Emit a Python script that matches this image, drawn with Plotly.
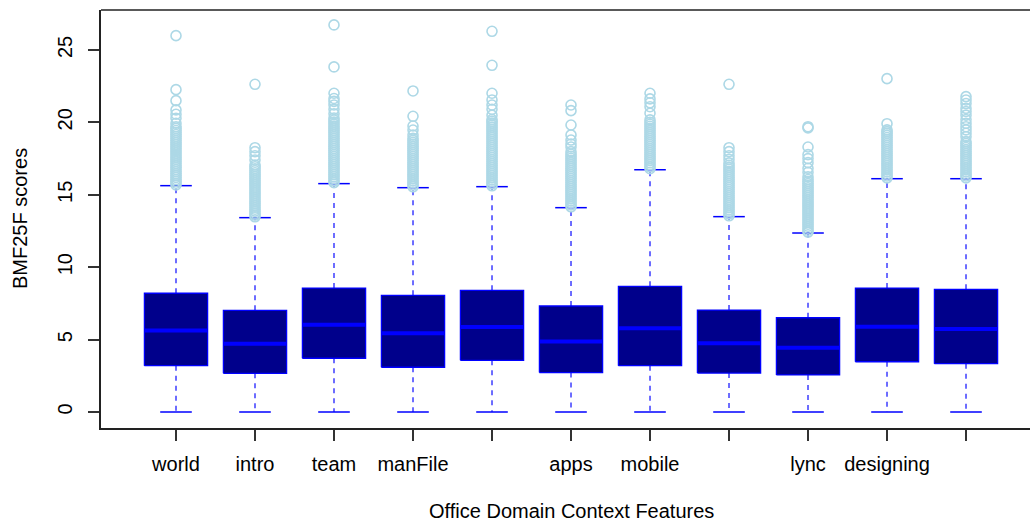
import plotly.graph_objects as go

# Per-group summary statistics (BMF25F scores per Office domain context feature)
tick_labels = ["world", "intro", "team", "manFile", "", "apps", "mobile", "", "lync", "designing", ""]
q1 = [3.20, 2.67, 3.71, 3.09, 3.57, 2.72, 3.20, 2.69, 2.56, 3.47, 3.34]
medians = [5.62, 4.72, 6.03, 5.44, 5.87, 4.86, 5.78, 4.74, 4.44, 5.89, 5.73]
q3 = [8.20, 7.02, 8.56, 8.06, 8.40, 7.32, 8.68, 7.04, 6.51, 8.56, 8.47]
whisker_low = [0, 0, 0, 0, 0, 0, 0, 0, 0, 0, 0]
whisker_high = [15.63, 13.42, 15.77, 15.49, 15.56, 14.11, 16.73, 13.49, 12.36, 16.11, 16.11]

outliers_world = [15.68, 15.8, 15.93, 16.06, 16.2, 16.34, 16.47, 16.61, 16.75, 16.9, 17.03, 17.17,
                  17.32, 17.46, 17.6, 17.74, 17.88, 18.03, 18.17, 18.31, 18.45, 18.6, 18.74, 18.88,
                  19.02, 19.16, 19.3, 19.44, 19.58, 19.7, 19.94, 20.28, 20.56, 20.86, 21.5, 22.26, 25.99]
outliers_intro = [13.48, 13.6, 13.73, 13.87, 14.0, 14.14, 14.28, 14.42, 14.56, 14.7, 14.84, 14.98,
                  15.12, 15.26, 15.4, 15.54, 15.68, 15.82, 15.96, 16.1, 16.24, 16.38, 16.52, 16.66,
                  16.8, 16.94, 17.06, 17.4, 17.7, 17.98, 18.25, 22.63]
outliers_team = [15.84, 15.96, 16.1, 16.24, 16.38, 16.52, 16.66, 16.8, 16.94, 17.08, 17.22, 17.36,
                 17.5, 17.64, 17.78, 17.92, 18.06, 18.2, 18.34, 18.48, 18.62, 18.76, 18.9, 19.04,
                 19.18, 19.32, 19.46, 19.6, 19.74, 19.88, 20.02, 20.16, 20.3, 20.6, 20.9, 21.2,
                 21.45, 21.65, 22.01, 23.83, 26.73]
outliers_manfile = [15.55, 15.68, 15.82, 15.96, 16.1, 16.24, 16.38, 16.52, 16.66, 16.8, 16.94, 17.08,
                    17.22, 17.36, 17.5, 17.64, 17.78, 17.92, 18.06, 18.2, 18.34, 18.48, 18.62, 18.76,
                    18.9, 19.13, 19.47, 19.75, 20.42, 22.17]
outliers_5 = [15.62, 15.75, 15.89, 16.03, 16.17, 16.31, 16.45, 16.59, 16.73, 16.87, 17.01, 17.15,
              17.29, 17.43, 17.57, 17.71, 17.85, 17.99, 18.13, 18.27, 18.41, 18.55, 18.69, 18.83,
              18.97, 19.11, 19.25, 19.39, 19.53, 19.67, 19.81, 19.95, 20.08, 20.2, 20.5, 20.9,
              21.2, 21.55, 22.01, 23.94, 26.29]
outliers_apps = [14.17, 14.3, 14.44, 14.58, 14.72, 14.86, 15.0, 15.14, 15.28, 15.42, 15.56, 15.7,
                 15.84, 15.98, 16.12, 16.26, 16.4, 16.54, 16.68, 16.82, 16.96, 17.1, 17.24, 17.38,
                 17.52, 17.66, 17.8, 17.98, 18.3, 18.51, 18.78, 19.13, 19.82, 20.81, 21.2]
outliers_mobile = [16.8, 16.93, 17.07, 17.21, 17.35, 17.49, 17.63, 17.77, 17.91, 18.05, 18.19, 18.33,
                   18.47, 18.61, 18.75, 18.89, 19.03, 19.17, 19.31, 19.45, 19.59, 19.73, 19.87, 20.01,
                   20.17, 20.63, 21.08, 21.35, 21.62, 22.01]
outliers_8 = [13.55, 13.68, 13.82, 13.96, 14.1, 14.24, 14.38, 14.52, 14.66, 14.8, 14.94, 15.08,
              15.22, 15.36, 15.5, 15.64, 15.78, 15.92, 16.06, 16.2, 16.34, 16.48, 16.62, 16.76,
              16.9, 17.04, 17.2, 17.45, 17.7, 17.98, 18.25, 22.63]
outliers_lync = [12.42, 12.55, 12.69, 12.83, 12.97, 13.11, 13.25, 13.39, 13.53, 13.67, 13.81, 13.95,
                 14.09, 14.23, 14.37, 14.51, 14.65, 14.79, 14.93, 15.07, 15.21, 15.35, 15.49, 15.63,
                 15.77, 15.91, 16.05, 16.25, 16.55, 16.83, 17.22, 17.5, 17.77, 18.3, 19.62, 19.7]
outliers_designing = [16.17, 16.3, 16.44, 16.58, 16.72, 16.86, 17.0, 17.14, 17.28, 17.42, 17.56, 17.7,
                      17.84, 17.98, 18.12, 18.26, 18.4, 18.54, 18.68, 18.82, 18.96, 19.1, 19.24, 19.36,
                      19.48, 19.91, 23.02]
outliers_11 = [16.17, 16.3, 16.44, 16.58, 16.72, 16.86, 17.0, 17.14, 17.28, 17.42, 17.56, 17.7,
               17.84, 17.98, 18.12, 18.26, 18.4, 18.54, 18.67, 19.01, 19.25, 19.48, 19.7, 19.94,
               20.2, 20.5, 20.75, 20.97, 21.3, 21.55, 21.78]

outliers = [outliers_world, outliers_intro, outliers_team, outliers_manfile, outliers_5, outliers_apps,
            outliers_mobile, outliers_8, outliers_lync, outliers_designing, outliers_11]

y_ticks = [0, 5, 10, 15, 20, 25]

FONT = "Liberation Sans, Arial, Helvetica, sans-serif"
FONT_SIZE = 20
BOX_FILL = "#00008B"
EDGE = "#0000FF"
WHISKER = "#3d3dff"
OUTLIER = "#ADD8E6"
HALF_BOX = 0.4
HALF_STAPLE = 0.2

positions = list(range(1, len(tick_labels) + 1))

# Geometry for the groups, in data units
box_x, box_y = [], []
med_x, med_y = [], []
whisk_x, whisk_y = [], []
staple_x, staple_y = [], []
out_x, out_y = [], []
for i, p in enumerate(positions):
    box_x += [p - HALF_BOX, p + HALF_BOX, p + HALF_BOX, p - HALF_BOX, p - HALF_BOX, None]
    box_y += [q1[i], q1[i], q3[i], q3[i], q1[i], None]
    med_x += [p - HALF_BOX, p + HALF_BOX, None]
    med_y += [medians[i], medians[i], None]
    whisk_x += [p, p, None, p, p, None]
    whisk_y += [q3[i], whisker_high[i], None, q1[i], whisker_low[i], None]
    staple_x += [p - HALF_STAPLE, p + HALF_STAPLE, None, p - HALF_STAPLE, p + HALF_STAPLE, None]
    staple_y += [whisker_high[i], whisker_high[i], None, whisker_low[i], whisker_low[i], None]
    out_x += [p] * len(outliers[i])
    out_y += outliers[i]

fig = go.Figure()
fig.add_trace(go.Scatter(x=whisk_x, y=whisk_y, mode="lines",
                         line=dict(color=WHISKER, width=1.5, dash="5px,5px"), hoverinfo="skip"))
fig.add_trace(go.Scatter(x=staple_x, y=staple_y, mode="lines",
                         line=dict(color=EDGE, width=1.5), hoverinfo="skip"))
fig.add_trace(go.Scatter(x=box_x, y=box_y, mode="lines", fill="toself", fillcolor=BOX_FILL,
                         line=dict(color=EDGE, width=1.3), hoverinfo="skip"))
fig.add_trace(go.Scatter(x=med_x, y=med_y, mode="lines",
                         line=dict(color=EDGE, width=4), hoverinfo="skip"))
fig.add_trace(go.Scatter(x=out_x, y=out_y, mode="markers",
                         marker=dict(symbol="circle-open", size=10, color=OUTLIER,
                                     line=dict(width=1.6, color=OUTLIER))))

fig.update_layout(
    width=1030, height=523,
    margin=dict(l=101, r=0, t=10, b=95),
    paper_bgcolor="white", plot_bgcolor="white",
    showlegend=False,
    font=dict(family=FONT, size=FONT_SIZE, color="#000000"),
    xaxis=dict(range=[0.0506, 11.81], tickmode="array", tickvals=positions, ticktext=tick_labels,
               ticks="outside", ticklen=11, tickcolor="#333333", tickwidth=1.5,
               showgrid=False, zeroline=False, showline=True, linecolor="#222222", linewidth=1.5,
               tickfont=dict(family=FONT, size=FONT_SIZE, color="#000000"), ticklabelstandoff=6),
    yaxis=dict(range=[-1.105, 27.76], tickmode="array", tickvals=y_ticks,
               ticktext=[str(v) for v in y_ticks], tickangle=-90,
               ticks="outside", ticklen=11, tickcolor="#333333", tickwidth=1.5,
               showgrid=False, zeroline=False, showline=True, linecolor="#222222", linewidth=1.5,
               tickfont=dict(family=FONT, size=FONT_SIZE, color="#000000"), ticklabelstandoff=8),
    shapes=[dict(type="line", xref="paper", yref="paper", x0=0, x1=1, y0=1, y1=1,
                 line=dict(color="#222222", width=1.5))],
    annotations=[
        dict(text="BMF25F scores", xref="paper", yref="paper", x=0, y=0.5, xshift=-81,
             xanchor="center", yanchor="middle", textangle=-90, showarrow=False,
             font=dict(family=FONT, size=FONT_SIZE, color="#000000")),
        dict(text="Office Domain Context Features", xref="x", yref="paper", x=6, y=0, yshift=-83,
             xanchor="center", yanchor="middle", showarrow=False,
             font=dict(family=FONT, size=FONT_SIZE, color="#000000")),
    ],
)

fig.write_html("out.html")
